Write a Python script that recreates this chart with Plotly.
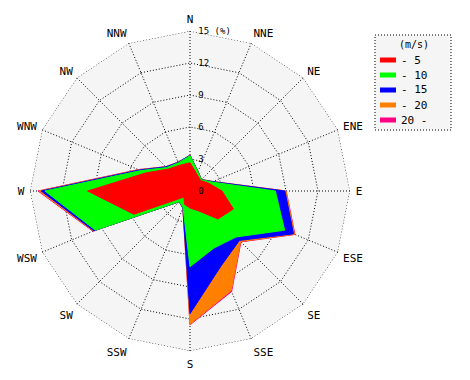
import plotly.graph_objects as go

directions = ["N", "NNE", "NE", "ENE", "E", "ESE", "SE", "SSE",
              "S", "SSW", "SW", "WSW", "W", "WNW", "NW", "NNW"]
speed_bins = ["- 5", "- 10", "- 15", "- 20", "20 -"]
legend_title = "(m/s)"
bin_colors = ["#ff0000", "#00ff00", "#0000ff", "#ff8000", "#ff0080"]

# frequency (%) per direction for each wind-speed class (non-cumulative)
freq_0_5 = [2.65, 1.7, 1.4, 1.9, 3.0, 4.4, 3.7, 2.0, 1.6, 1.35, 0.8, 5.7, 9.6, 4.45, 2.9, 2.6]
freq_5_10 = [0.65, 0.25, 0.1, 0.3, 5.0, 5.2, 2.4, 3.8, 5.5, 0.35, 0.6, 3.9, 4.0, 0.55, 0.2, 0.25]
freq_10_15 = [0.05, 0.02, 0.02, 0.1, 0.9, 0.9, 0.45, 1.8, 4.4, 0.05, 0.02, 0.15, 0.35, 0.15, 0.1, 0.05]
freq_15_20 = [0.0, 0.0, 0.0, 0.02, 0.1, 0.1, 0.15, 2.5, 1.0, 0.0, 0.0, 0.05, 0.2, 0.05, 0.02, 0.02]
freq_20_up = [0.0, 0.0, 0.0, 0.0, 0.02, 0.05, 0.05, 0.1, 0.05, 0.0, 0.0, 0.05, 0.1, 0.05, 0.0, 0.0]

radial_ticks = [0, 3, 6, 9, 12, 15]
radial_tick_labels = ["0", "3", "6", "9", "12", "15 (%)"]

bins = [freq_0_5, freq_5_10, freq_10_15, freq_15_20, freq_20_up]
cumulative = []
running = [0.0] * len(directions)
for b in bins:
    running = [r + v for r, v in zip(running, b)]
    cumulative.append(running)

FONT = "DejaVu Sans Mono"
DOT = "1px,2px"
r_max = radial_ticks[-1]
closed_dirs = directions + [directions[0]]

fig = go.Figure()
for i in reversed(range(len(bins))):
    r = cumulative[i] + [cumulative[i][0]]
    fig.add_trace(go.Scatterpolar(
        r=r, theta=closed_dirs, mode="lines", fill="toself",
        fillcolor=bin_colors[i], line=dict(color=bin_colors[i], width=1),
        name=speed_bins[i], hoverinfo="skip", showlegend=False))

# dotted outer frame of the polygonal grid
fig.add_trace(go.Scatterpolar(
    r=[r_max] * len(closed_dirs), theta=closed_dirs, mode="lines",
    line=dict(color="black", width=1, dash=DOT), cliponaxis=False,
    hoverinfo="skip", showlegend=False, name="frame"))

W, H = 470, 380
cx, cy, R = 190, 191, 160


def px(x):
    return x / W


def py(y):
    return 1 - y / H


# legend box (dotted border) with swatches and real-text labels
shapes = [dict(type="rect", xref="paper", yref="paper",
               x0=px(375), x1=px(451), y0=py(130), y1=py(35),
               line=dict(color="black", width=1, dash=DOT),
               fillcolor="#f5f5f5", layer="below")]
annotations = [dict(text=legend_title, xref="paper", yref="paper",
                    x=px(414), y=py(44), xanchor="center", yanchor="middle",
                    showarrow=False, font=dict(size=10, family=FONT))]
for i, name in enumerate(speed_bins):
    yc = 60 + 15 * i
    shapes.append(dict(type="rect", xref="paper", yref="paper",
                       x0=px(380), x1=px(396), y0=py(yc + 2.5), y1=py(yc - 2.5),
                       line=dict(width=0), fillcolor=bin_colors[i], layer="above"))
    annotations.append(dict(text=name, xref="paper", yref="paper",
                            x=px(399), y=py(yc), xanchor="left", yanchor="middle",
                            showarrow=False, font=dict(size=11, family=FONT)))

fig.update_layout(
    width=W, height=H,
    margin=dict(l=0, r=0, t=0, b=0),
    paper_bgcolor="white",
    font=dict(family=FONT, size=11, color="black"),
    polar=dict(
        domain=dict(x=[(cx - R) / W, (cx + R) / W],
                    y=[(H - cy - R) / H, (H - cy + R) / H]),
        bgcolor="#f5f5f5",
        gridshape="linear",
        radialaxis=dict(range=[0, r_max], tickvals=radial_ticks, ticktext=radial_tick_labels,
                        angle=90, tickangle=90, showline=False,
                        ticks="outside", ticklen=6, tickcolor="rgba(0,0,0,0)",
                        showgrid=True, gridcolor="black", gridwidth=1, griddash=DOT,
                        tickfont=dict(size=9, family=FONT)),
        angularaxis=dict(type="category", categoryarray=directions,
                         direction="clockwise", rotation=90, showline=False,
                         ticks="outside", ticklen=3, tickcolor="rgba(0,0,0,0)",
                         gridcolor="black", gridwidth=1, griddash=DOT,
                         tickfont=dict(size=11, family=FONT)),
    ),
    showlegend=False,
    shapes=shapes,
    annotations=annotations,
)

fig.write_html("out.html", config={"displayModeBar": False},
               post_script="document.body.style.margin='0px';")
